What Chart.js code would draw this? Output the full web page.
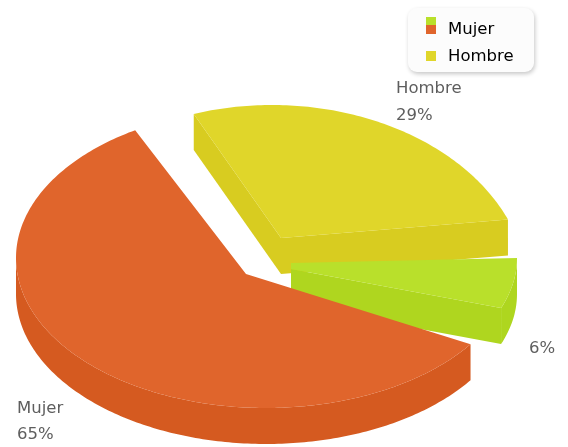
<!DOCTYPE html>
<html>
<head>
<meta charset="utf-8">
<style>
html,body{margin:0;padding:0;background:#fff}
canvas{display:block;filter:blur(0.4px)}
</style>
<script src="https://cdn.jsdelivr.net/npm/chart.js@4"></script>
</head>
<body>
<canvas id="c" width="568" height="447"></canvas>
<script>
const categories = ['Mujer', 'Hombre', ''];
const values = [65, 29, 6];
const topColors = ['#e0652c', '#e0d62a', '#b9e02b'];
const rimColors = ['#d55a20', '#d8cc20', '#aed61f'];
const cutColors = ['#d55a20', '#d8cc20', '#afd61f'];

// Projection of each slice's flat pie angle on to the tilted picture plane
const DEPTH = 36;
const sliceView = [
  {cx:266, cy:258, rx:250, ry:150, tStart:35.1,  tScale:0.869, apex:[[246,274]]},
  {cx:272, cy:292, rx:256, ry:187, tStart:252.2, tScale:0.814, apex:[[281,238]]},
  {cx:290, cy:258, rx:227, ry:136, tStart:0,     tScale:1,     apex:[[291,269],[291,263]]}
];
const drawOrder = [1, 2, 0];
const labelAnchors = [[17, 409, 435], [396, 89, 116], [529, null, 349]];

function fillWall(ctx, run, col) {
  ctx.fillStyle = col;
  ctx.beginPath();
  run.forEach((p, k) => k ? ctx.lineTo(p[0], p[1]) : ctx.moveTo(p[0], p[1]));
  for (let k = run.length - 1; k >= 0; k--) ctx.lineTo(run[k][0], run[k][1] + DEPTH);
  ctx.closePath();
  ctx.fill();
}

const pie3d = {
  id: 'pie3d',
  beforeDraw(chart) {
    const ctx = chart.ctx;
    const lg = chart.legend;
    ctx.save();
    ctx.shadowColor = 'rgba(0,0,0,0.22)';
    ctx.shadowBlur = 4;
    ctx.shadowOffsetX = 1;
    ctx.shadowOffsetY = 2;
    ctx.fillStyle = '#fcfcfc';
    ctx.beginPath();
    ctx.roundRect(408, 8, 126, 64, 9);
    ctx.fill();
    ctx.restore();
    // place the library legend inside the panel
    lg.left = 415.75; lg.right = 534; lg.top = 11.5; lg.bottom = 90;
    // swatches
    ctx.save();
    ctx.fillStyle = topColors[2]; ctx.fillRect(426, 17, 10, 8);
    ctx.fillStyle = topColors[0]; ctx.fillRect(426, 25, 10, 9);
    ctx.fillStyle = topColors[1]; ctx.fillRect(426, 51, 10, 10);
    ctx.restore();
  },
  beforeDatasetsDraw(chart) {
    const ctx = chart.ctx;
    const meta = chart.getDatasetMeta(0);
    drawOrder.forEach(i => {
      const el = meta.data[i];
      const v = sliceView[i];
      const a0 = el.startAngle * 180 / Math.PI;
      const a1 = el.endAngle * 180 / Math.PI;
      const rim = [];
      const n = Math.max(2, Math.ceil(a1 - a0));
      for (let k = 0; k <= n; k++) {
        const deg = a0 + (a1 - a0) * k / n;
        const t = (v.tStart + (deg - a0) * v.tScale) * Math.PI / 180;
        rim.push([v.cx + v.rx * Math.cos(t), v.cy + v.ry * Math.sin(t)]);
      }
      const pts = rim.concat(v.apex);
      ctx.save();
      // rim wall: runs of rim points moving right-to-left face the viewer
      let run = [];
      for (let k = 0; k < rim.length; k++) {
        if (k + 1 < rim.length && rim[k + 1][0] < rim[k][0]) {
          if (!run.length) run.push(rim[k]);
          run.push(rim[k + 1]);
        } else if (run.length) {
          fillWall(ctx, run, rimColors[i]);
          run = [];
        }
      }
      // cut walls
      for (let k = rim.length - 1; k < pts.length; k++) {
        const p = pts[k], q = pts[(k + 1) % pts.length];
        if (q[0] < p[0]) fillWall(ctx, [p, q], cutColors[i]);
      }
      // top face
      ctx.fillStyle = topColors[i];
      ctx.beginPath();
      pts.forEach((p, k) => k ? ctx.lineTo(p[0], p[1]) : ctx.moveTo(p[0], p[1]));
      ctx.closePath();
      ctx.fill();
      ctx.restore();
    });
    // data labels
    const total = values.reduce((a, b) => a + b, 0);
    ctx.save();
    ctx.font = '16.5px "DejaVu Sans"';
    ctx.fillStyle = '#5e5e5e';
    ctx.textBaseline = 'middle';
    ctx.textAlign = 'left';
    categories.forEach((name, i) => {
      const a = labelAnchors[i];
      if (name) ctx.fillText(name, a[0], a[1]);
      ctx.fillText(Math.round(values[i] / total * 100) + '%', a[0], a[2]);
    });
    ctx.restore();
    return false;
  }
};

new Chart(document.getElementById('c'), {
  type: 'pie',
  data: {
    labels: categories,
    datasets: [{ data: values, backgroundColor: topColors, borderWidth: 0 }]
  },
  options: {
    responsive: false,
    animation: false,
    rotation: 111.6,
    plugins: {
      tooltip: { enabled: false },
      title: { display: false },
      legend: {
        display: true,
        position: 'right',
        align: 'start',
        labels: {
          font: { family: '"DejaVu Sans"', size: 16.5 },
          color: '#222222',
          boxWidth: 14,
          boxHeight: 10,
          padding: 10,
          filter: item => item.text !== '',
          generateLabels: chart => chart.data.labels.map((t, i) => ({
            text: t, fillStyle: 'rgba(0,0,0,0)', strokeStyle: 'rgba(0,0,0,0)', lineWidth: 0, index: i
          }))
        }
      }
    }
  },
  plugins: [pie3d]
});
</script>
</body>
</html>
